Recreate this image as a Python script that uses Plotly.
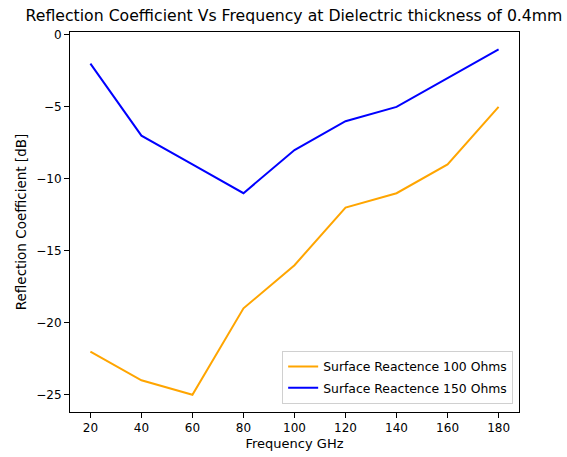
import plotly.graph_objects as go

freq = [20, 40, 60, 80, 100, 120, 140, 160, 180]
rc_100 = [-22, -24, -25, -19, -16, -12, -11, -9, -5]
rc_150 = [-2, -7, -9, -11, -8, -6, -5, -3, -1]
x_ticks = [20, 40, 60, 80, 100, 120, 140, 160, 180]
y_ticks = [0, -5, -10, -15, -20, -25]

fig = go.Figure()
fig.add_trace(go.Scatter(x=freq, y=rc_100, mode="lines", name="Surface Reactence 100 Ohms",
                         legendgroup="a", line=dict(color="orange", width=2)))
fig.add_trace(go.Scatter(x=freq, y=rc_150, mode="lines", name="Surface Reactence 150 Ohms",
                         legendgroup="b", line=dict(color="blue", width=2)))

font = "DejaVu Sans"
axis_common = dict(showline=True, linecolor="black", linewidth=1, mirror=True,
                   ticks="outside", ticklen=5, tickcolor="black", showgrid=False,
                   zeroline=False, automargin=False,
                   tickfont=dict(family=font, size=12, color="black"))
fig.update_layout(
    width=567, height=457,
    margin=dict(l=70, r=48, t=32, b=45),
    plot_bgcolor="white", paper_bgcolor="white",
    title=dict(text="Reflection Coefficient Vs Frequency at Dielectric thickness of 0.4mm",
               x=294 / 567, xanchor="center", y=1 - 16 / 457, yanchor="middle",
               font=dict(family=font, size=15.7, color="black")),
    xaxis=dict(range=[12, 188], tickvals=x_ticks, ticktext=[str(v) for v in x_ticks],
               title=dict(text="Frequency GHz", font=dict(family=font, size=13, color="black"), standoff=4),
               **axis_common),
    yaxis=dict(range=[-26.2, 0.2], tickvals=y_ticks, ticktext=[str(v).replace("-", "−") for v in y_ticks],
               title=dict(text="Reflection Coefficient [dB]", font=dict(family=font, size=13.5, color="black"), standoff=6),
               **axis_common),
    legend=dict(x=0.987, y=0.021, xanchor="right", yanchor="bottom",
                bordercolor="#d0d0d0", borderwidth=1, bgcolor="rgba(255,255,255,0.8)",
                tracegroupgap=2,
                font=dict(family=font, size=12.4, color="black")),
    showlegend=True,
)
fig.write_html("out.html")
